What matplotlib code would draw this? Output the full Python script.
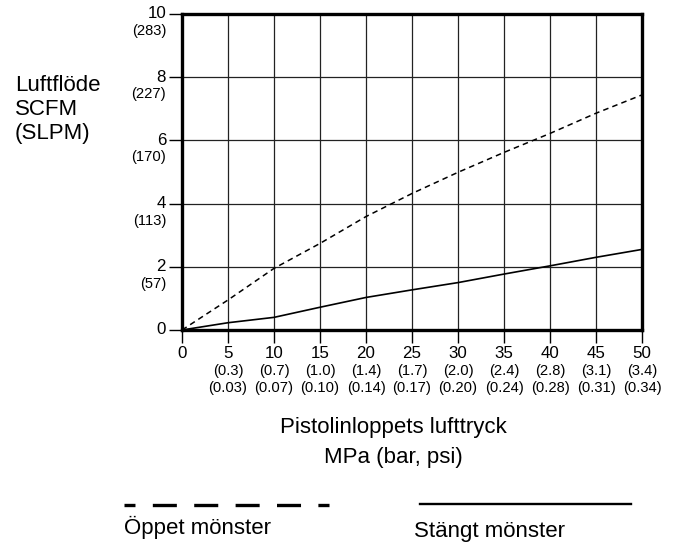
import matplotlib
matplotlib.use("Agg")
import matplotlib.pyplot as plt
from matplotlib.lines import Line2D

plt.rcParams["font.family"] = ["Liberation Sans", "DejaVu Sans"]
plt.rcParams["lines.scale_dashes"] = False

# Inlet air pressure (psi) and air flow (SCFM)
pressure_psi = [0, 5, 10, 15, 20, 25, 30, 35, 40, 45, 50]
open_pattern = [0, 0.95, 1.95, 2.74, 3.59, 4.32, 4.99, 5.62, 6.22, 6.86, 7.44]
closed_pattern = [0, 0.23, 0.40, 0.72, 1.03, 1.27, 1.50, 1.77, 2.03, 2.30, 2.55]

# Tick labels
x_ticks = [0, 5, 10, 15, 20, 25, 30, 35, 40, 45, 50]
x_bar = ["", "(0.3)", "(0.7)", "(1.0)", "(1.4)", "(1.7)", "(2.0)", "(2.4)", "(2.8)", "(3.1)", "(3.4)"]
x_mpa = ["", "(0.03)", "(0.07)", "(0.10)", "(0.14)", "(0.17)", "(0.20)", "(0.24)", "(0.28)", "(0.31)", "(0.34)"]
y_ticks = [0, 2, 4, 6, 8, 10]
y_slpm = ["", "(57)", "(113)", "(170)", "(227)", "(283)"]

W, H = 681, 543
fig = plt.figure(figsize=(W / 100, H / 100), dpi=100)
ax = fig.add_axes([182 / W, 1 - 330 / H, (642 - 182) / W, (330 - 14) / H])

ax.plot(pressure_psi, open_pattern, color="black", lw=1.1, linestyle=(0, (4, 3)))
ax.plot(pressure_psi, closed_pattern, color="black", lw=1.2)

ax.set_xlim(0, 50)
ax.set_ylim(0, 10)
ax.set_xticks(x_ticks)
ax.set_yticks(y_ticks)
ax.set_xticklabels([])
ax.set_yticklabels([])
ax.tick_params(axis="both", length=9.5, width=1, color="black", direction="out")
ax.grid(True, color="#222222", lw=0.9)
for s in ax.spines.values():
    s.set_linewidth(2.4)

NUM_FS = 12.2
PAR_FS = 10.6
TITLE_FS = 16

xt = ax.get_xaxis_transform()
for x, b, m in zip(x_ticks, x_bar, x_mpa):
    ax.annotate(str(x), (x, 0), xycoords=xt, xytext=(0, -23), textcoords="offset pixels",
                ha="center", va="center", fontsize=NUM_FS, annotation_clip=False)
    if b:
        ax.annotate(b, (x, 0), xycoords=xt, xytext=(0, -41), textcoords="offset pixels",
                    ha="center", va="center", fontsize=PAR_FS, annotation_clip=False)
        ax.annotate(m, (x, 0), xycoords=xt, xytext=(0, -58), textcoords="offset pixels",
                    ha="center", va="center", fontsize=PAR_FS, annotation_clip=False)

yt = ax.get_yaxis_transform()
for y, s in zip(y_ticks, y_slpm):
    ax.annotate(str(y), (0, y), xycoords=yt, xytext=(-16, 0), textcoords="offset pixels",
                ha="right", va="center", fontsize=NUM_FS, annotation_clip=False)
    if s:
        ax.annotate(s, (0, y), xycoords=yt, xytext=(-16, -17), textcoords="offset pixels",
                    ha="right", va="center", fontsize=PAR_FS, annotation_clip=False)

def fx(px):
    return px / W

def fy(py):
    return 1 - py / H

# Axis titles
for i, t in enumerate(["Luftflöde", "SCFM", "(SLPM)"]):
    fig.text(fx(15), fy(91 + 24 * i), t, ha="left", va="baseline", fontsize=TITLE_FS)
fig.text(fx(393), fy(433), "Pistolinloppets lufttryck", ha="center", va="baseline", fontsize=TITLE_FS)
fig.text(fx(393), fy(463), "MPa (bar, psi)", ha="center", va="baseline", fontsize=TITLE_FS)

# Key
fig.add_artist(Line2D([fx(124), fx(329)], [fy(504.5), fy(504.5)], color="black", lw=2.4,
                      linestyle=(9.4, (17.3, 12.5)), dash_capstyle="butt"))
fig.add_artist(Line2D([fx(420), fx(631)], [fy(504), fy(504)], color="black", lw=1.7))
fig.text(fx(124), fy(534), "Öppet mönster", ha="left", va="baseline", fontsize=TITLE_FS)
fig.text(fx(414), fy(536.5), "Stängt mönster", ha="left", va="baseline", fontsize=TITLE_FS)

fig.savefig("out.png", dpi=100)
